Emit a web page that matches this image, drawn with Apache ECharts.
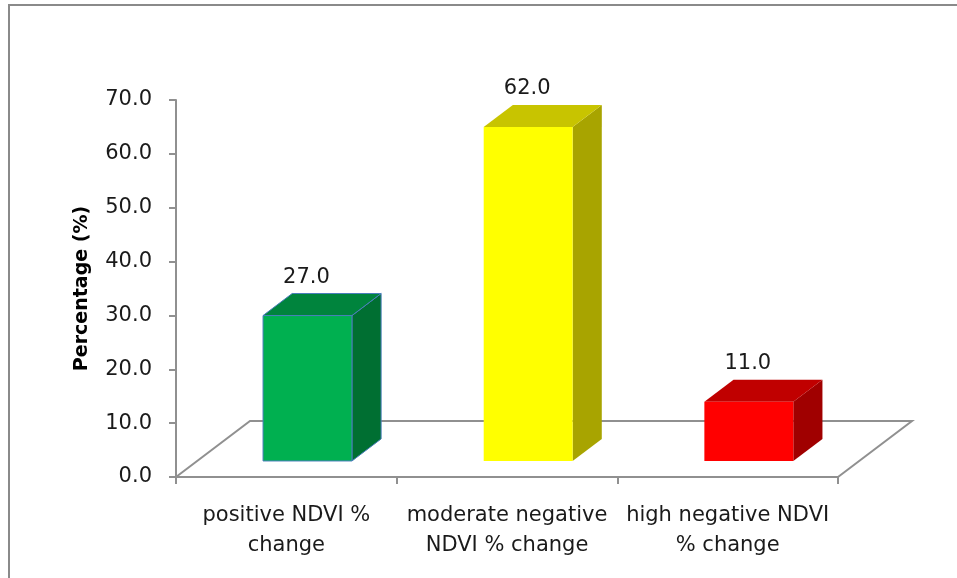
<!DOCTYPE html>
<html>
<head>
<meta charset="utf-8">
<script src="https://cdn.jsdelivr.net/npm/echarts@6/dist/echarts.min.js"></script>
<style>
  html, body { margin: 0; padding: 0; background: #fff; }
  #chart { width: 957px; height: 578px; }
</style>
</head>
<body>
<div id="chart"></div>
<script>
// NDVI change classes and their share of the area
const categories = [
  'positive NDVI %\nchange',
  'moderate negative\nNDVI % change',
  'high negative NDVI\n% change'
];
const percentages = [27.0, 62.0, 11.0];
const yTicks = { min: 0, max: 70, interval: 10 };

// face colours per bar: front, top, side
const faceColors = [
  { front: '#00B050', top: '#00843D', side: '#006F32', stroke: '#4A7EBB' },
  { front: '#FFFF00', top: '#C8C400', side: '#A8A400', stroke: null },
  { front: '#FF0000', top: '#C00000', side: '#A00000', stroke: null }
];

// pseudo-3D floor depth (px) and where the boxes sit inside it
const DEPTH_X = 74, DEPTH_Y = -56;
const BOX_FRONT = 0.286, BOX_BACK = 0.68;
const BAR_FRAC = 0.403;
const TEXT = '#1a1a1a';
const AXIS_GREY = '#909090';
const FONT = 'DejaVu Sans';

const chart = echarts.init(document.getElementById('chart'), null, { renderer: 'canvas' });

function renderFloor(params, api) {
  const band = api.size([1, 0])[0];
  const first = api.coord([0, 0]);
  const last = api.coord([categories.length - 1, 0]);
  const left = first[0] - band / 2;
  const right = last[0] + band / 2;
  const y0 = first[1];
  return {
    type: 'polyline',
    shape: {
      points: [
        [left, y0],
        [left + DEPTH_X, y0 + DEPTH_Y],
        [right + DEPTH_X, y0 + DEPTH_Y],
        [right, y0]
      ]
    },
    style: { stroke: AXIS_GREY, lineWidth: 2, fill: null }
  };
}

function renderBox(params, api) {
  const idx = api.value(0);
  const v = api.value(1);
  const base = api.coord([idx, 0]);
  const top = api.coord([idx, v]);
  const band = api.size([1, 0])[0];
  const w = band * BAR_FRAC;
  const x0 = base[0] - w / 2 + DEPTH_X * BOX_FRONT;
  const x1 = x0 + w;
  const yb = base[1] + DEPTH_Y * BOX_FRONT;
  const yt = top[1] + DEPTH_Y * BOX_FRONT;
  const ddx = DEPTH_X * (BOX_BACK - BOX_FRONT);
  const ddy = DEPTH_Y * (BOX_BACK - BOX_FRONT);
  const c = faceColors[idx];
  const stroke = c.stroke || null;
  const lw = c.stroke ? 1 : 0;
  return {
    type: 'group',
    children: [
      {
        type: 'polygon',
        shape: { points: [[x1, yt], [x1 + ddx, yt + ddy], [x1 + ddx, yb + ddy], [x1, yb]] },
        style: { fill: c.side, stroke: stroke, lineWidth: lw }
      },
      {
        type: 'polygon',
        shape: { points: [[x0, yt], [x1, yt], [x1 + ddx, yt + ddy], [x0 + ddx, yt + ddy]] },
        style: { fill: c.top, stroke: stroke, lineWidth: lw }
      },
      {
        type: 'rect',
        shape: { x: x0, y: yt, width: w, height: yb - yt },
        style: { fill: c.front, stroke: stroke, lineWidth: lw }
      },
      {
        type: 'text',
        style: {
          x: (x0 + x1) / 2 - 1,
          y: yt + ddy - 16,
          text: v.toFixed(1),
          align: 'center',
          verticalAlign: 'middle',
          fill: TEXT,
          font: '21px "' + FONT + '"'
        }
      }
    ]
  };
}

chart.setOption({
  animation: false,
  backgroundColor: '#ffffff',
  graphic: [
    {
      type: 'rect',
      shape: { x: 9, y: 5, width: 1000, height: 1000 },
      style: { fill: null, stroke: '#8a8a8a', lineWidth: 2 },
      silent: true
    }
  ],
  grid: { left: 176, top: 100, right: 119, bottom: 101, containLabel: false },
  xAxis: {
    type: 'category',
    data: categories,
    boundaryGap: true,
    axisLine: { show: true, lineStyle: { color: AXIS_GREY, width: 2 } },
    axisTick: { show: true, length: 7, alignWithLabel: false, lineStyle: { color: AXIS_GREY, width: 2 } },
    axisLabel: {
      interval: 0,
      margin: 24,
      color: TEXT,
      fontFamily: FONT,
      fontSize: 21,
      lineHeight: 30
    },
    splitLine: { show: false }
  },
  yAxis: {
    type: 'value',
    min: yTicks.min,
    max: yTicks.max,
    interval: yTicks.interval,
    name: 'Percentage (%)',
    nameLocation: 'middle',
    nameGap: 84,
    nameTextStyle: { color: '#000', fontFamily: FONT, fontWeight: 'bold', fontSize: 19 },
    axisLine: { show: true, lineStyle: { color: AXIS_GREY, width: 2 } },
    axisTick: { show: true, length: 7, lineStyle: { color: AXIS_GREY, width: 2 } },
    axisLabel: {
      margin: 24,
      color: TEXT,
      fontFamily: FONT,
      fontSize: 21,
      formatter: function (val) { return val.toFixed(1); }
    },
    splitLine: { show: false }
  },
  series: [
    {
      name: 'floor',
      type: 'custom',
      renderItem: renderFloor,
      data: [[0, 0]],
      z: 1,
      silent: true
    },
    {
      name: 'Percentage',
      type: 'custom',
      renderItem: renderBox,
      data: percentages.map(function (v, i) { return [i, v]; }),
      z: 5
    }
  ]
});
</script>
</body>
</html>
